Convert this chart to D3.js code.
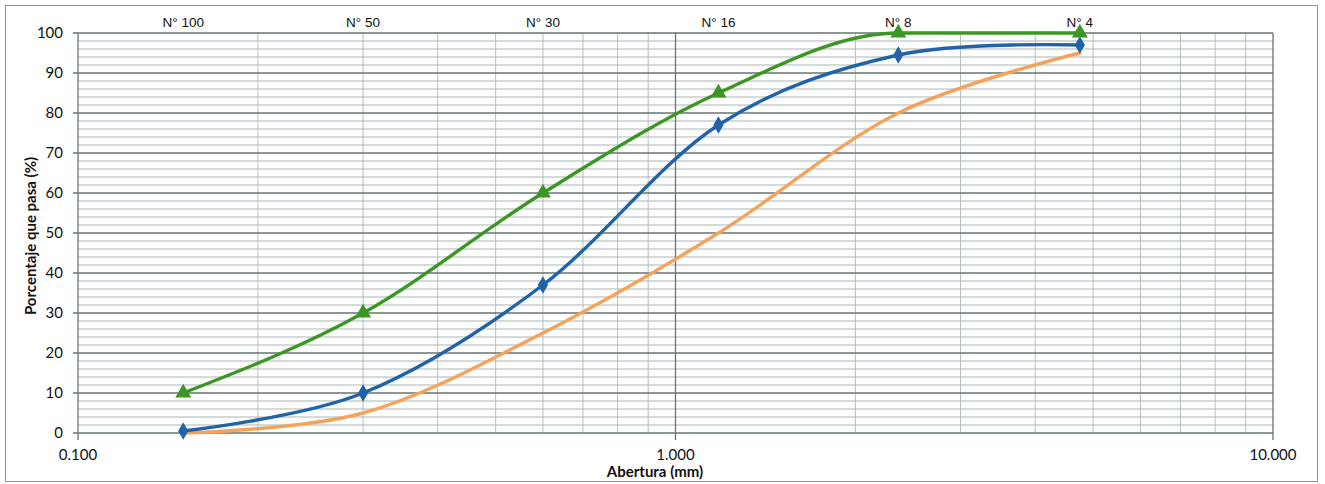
<!DOCTYPE html>
<html><head><meta charset="utf-8">
<script src="https://cdn.jsdelivr.net/npm/d3@7"></script>
<style>
html,body{margin:0;padding:0;background:#fff;}
</style></head>
<body>
<svg id="chart" width="1325" height="484"></svg>
<script>
const sieveLabels = ["N° 100","N° 50","N° 30","N° 16","N° 8","N° 4"];
const sieveSizes = [0.150, 0.300, 0.600, 1.180, 2.360, 4.750];
const upperLimit = [10, 30, 60, 85, 100, 100];
const sample = [0.5, 10, 37, 77, 94.5, 97];
const lowerLimit = [0, 5, 25, 50, 80, 95];
const xTickLabels = ["0.100","1.000","10.000"];
const xTickValues = [0.1, 1, 10];
const yTickValues = [0,10,20,30,40,50,60,70,80,90,100];

const svg = d3.select("#chart");
const L = 78, R = 1273, T = 33, B = 433;
const x = d3.scaleLog().domain([0.1, 10]).range([L, R]);
const y = d3.scaleLinear().domain([0, 100]).range([B, T]);

// outer border
svg.append("rect").attr("x",5.5).attr("y",5.5).attr("width",1312).attr("height",476)
  .attr("fill","#fff").attr("stroke","#8a9a94").attr("stroke-width",1);

const g = svg.append("g");
// minor horizontal grid every 2
const minorY = d3.range(0, 101, 2);
g.selectAll(".hmin").data(minorY.filter(v => v % 10 !== 0)).join("line")
  .attr("x1", L).attr("x2", R).attr("y1", d => y(d)).attr("y2", d => y(d))
  .attr("stroke", "#a9b5b0").attr("stroke-width", 1);
// vertical minor grid
const xt = x.ticks();
g.selectAll(".vmin").data(xt.filter(v => !xTickValues.some(t => Math.abs(t - v) < 1e-9))).join("line")
  .attr("x1", d => x(d)).attr("x2", d => x(d)).attr("y1", T).attr("y2", B)
  .attr("stroke", "#b4bfba").attr("stroke-width", 1);
// major horizontal
g.selectAll(".hmaj").data(yTickValues).join("line")
  .attr("x1", L-5).attr("x2", R).attr("y1", d => y(d)).attr("y2", d => y(d))
  .attr("stroke", "#66756f").attr("stroke-width", 1.3);
// major vertical
g.selectAll(".vmaj").data(xTickValues).join("line")
  .attr("x1", d => x(d)).attr("x2", d => x(d)).attr("y1", T).attr("y2", B+7)
  .attr("stroke", "#66756f").attr("stroke-width", 1.3);

// y tick labels
g.selectAll(".ylab").data(yTickValues).join("text")
  .attr("x", 63).attr("y", d => y(d) + 5).attr("text-anchor","end")
  .attr("font-family","Lato, 'Open Sans', sans-serif").attr("font-size",15).attr("fill","#111")
  .text(d => d);
// x tick labels
g.selectAll(".xlab").data(xTickValues).join("text")
  .attr("x", d => x(d)).attr("y", 460).attr("text-anchor","middle")
  .attr("font-family","Lato, 'Open Sans', sans-serif").attr("font-size",15).attr("fill","#111")
  .text((d,i) => xTickLabels[i]);
// top sieve labels
g.selectAll(".slab").data(sieveSizes).join("text")
  .attr("x", d => x(d)).attr("y", 27).attr("text-anchor","middle")
  .attr("font-family","'Liberation Sans', Arial, sans-serif").attr("font-size",13.5).attr("fill","#111")
  .text((d,i) => sieveLabels[i]);

// axis titles
svg.append("text").attr("x", 655).attr("y", 477).attr("text-anchor","middle")
  .attr("font-family","Lato, 'Open Sans', sans-serif").attr("font-weight","bold").attr("font-size",15).attr("fill","#111")
  .text("Abertura (mm)");
svg.append("text").attr("transform","translate(36,236) rotate(-90)").attr("text-anchor","middle")
  .attr("font-family","Lato, 'Open Sans', sans-serif").attr("font-weight","bold").attr("font-size",15).attr("fill","#111")
  .text("Porcentaje que pasa (%)");

const smooth = d3.line().x(d => x(d[0])).y(d => y(d[1])).curve(d3.curveCardinal.tension(0));
const mono = d3.line().x(d => x(d[0])).y(d => y(d[1])).curve(d3.curveMonotoneX);
const series = [
  {vals: lowerLimit, color: "#f5a35c", marker: null, gen: smooth},
  {vals: sample, color: "#2262a6", marker: d3.symbolDiamond, gen: smooth},
  {vals: upperLimit, color: "#3c9624", marker: d3.symbolTriangle, gen: mono}
];
series.forEach(s => {
  const pts = sieveSizes.map((v,i) => [v, s.vals[i]]);
  svg.append("path").attr("d", s.gen(pts)).attr("fill","none")
    .attr("stroke", s.color).attr("stroke-width", 3.4).attr("stroke-linecap","round");
  if (s.marker) {
    svg.selectAll(null).data(pts).join("path")
      .attr("transform", d => `translate(${x(d[0])},${y(d[1])})`)
      .attr("d", d3.symbol().type(s.marker).size(s.marker === d3.symbolTriangle ? 110 : 90))
      .attr("fill", s.color);
  }
});
</script>
</body></html>
